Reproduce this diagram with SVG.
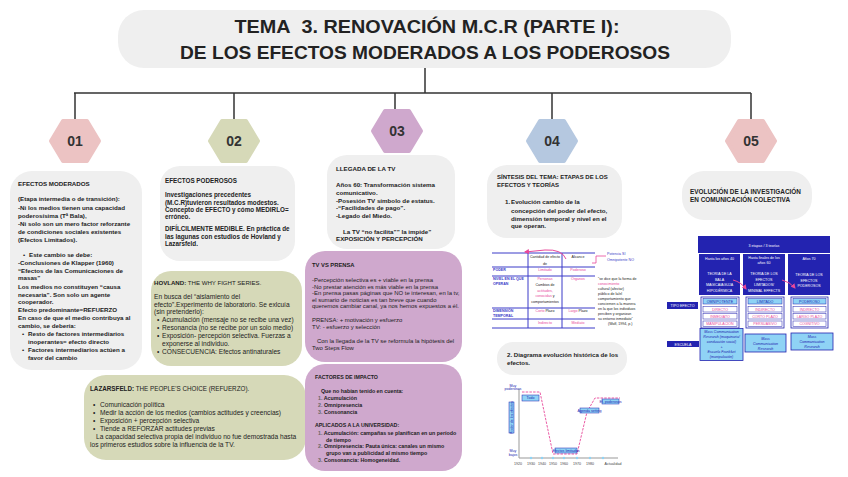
<svg xmlns="http://www.w3.org/2000/svg" width="848" height="477" viewBox="0 0 848 477">
<defs>
<style>
.t{font-family:"Liberation Sans",Arial,sans-serif;fill:#222}
.b{font-weight:bold}
.gray{fill:#efefef}
.ol{fill:#d6d9b8}
.pu{fill:#cfa8cd}
.conn{stroke:#333;stroke-width:1.5;fill:none}
.hexn{font-family:"Liberation Sans",Arial,sans-serif;font-weight:bold;font-size:14px;fill:#333;text-anchor:middle}
.bl{stroke:#3a3ac8;stroke-width:1}
.tb{font-family:"Liberation Sans",Arial,sans-serif;font-size:3.6px;text-anchor:middle}
.pk{fill:#e8489a}
.db{fill:#2323b0}
.wt{fill:#fff}
</style>
<marker id="pa" markerWidth="5" markerHeight="5" refX="4" refY="2.5" orient="auto" markerUnits="userSpaceOnUse"><path d="M0,0 L5,2.5 L0,5z" fill="#e8489a"/></marker>
<path id="hex" d="M-12,-20 L12,-20 L24,0 L12,20 L-12,20 L-24,0Z"/>
</defs>
<rect width="848" height="477" fill="#fff"/>

<g id="title">
<rect x="118" y="10" width="613" height="58" rx="26" class="gray"/>
<text x="427" y="33" class="t b" font-size="18" text-anchor="middle" textLength="385" lengthAdjust="spacingAndGlyphs">TEMA&#160; 3. RENOVACIÓN M.C.R (PARTE I):</text>
<text x="425" y="59" class="t b" font-size="18" text-anchor="middle" textLength="490" lengthAdjust="spacingAndGlyphs">DE LOS EFECTOS MODERADOS A LOS PODEROSOS</text>
</g>

<g id="connectors">
<path class="conn" d="M425,68 V93 M74,93 H751 M75,93 V119 M234,93 V119 M395,93 V109 M552,93 V119 M751,93 V119"/>
</g>

<g id="hex01"><use href="#hex" x="75" y="141" fill="#ecc3c3" stroke="#ecc3c3" stroke-width="4" stroke-linejoin="round"/><text x="75" y="146" class="hexn">01</text></g>
<g id="hex02"><use href="#hex" x="234" y="141" fill="#d6d9b8" stroke="#d6d9b8" stroke-width="4" stroke-linejoin="round"/><text x="234" y="146" class="hexn">02</text></g>
<g id="hex03"><use href="#hex" x="397" y="131" fill="#cfa8cd" stroke="#cfa8cd" stroke-width="4" stroke-linejoin="round"/><text x="397" y="136" class="hexn">03</text></g>
<g id="hex04"><use href="#hex" x="552" y="141" fill="#b5c8e0" stroke="#b5c8e0" stroke-width="4" stroke-linejoin="round"/><text x="552" y="146" class="hexn">04</text></g>
<g id="hex05"><use href="#hex" x="751" y="141" fill="#ecc3c3" stroke="#ecc3c3" stroke-width="4" stroke-linejoin="round"/><text x="751" y="146" class="hexn">05</text></g>

<g id="box1">
<rect x="10" y="171" width="132" height="199" rx="22" class="gray"/>
<g class="t b" font-size="6.2">
<text x="18" y="186">EFECTOS MODERADOS</text>
<text x="18" y="201">(Etapa intermedia o de transición):</text>
<text x="18" y="210">-Ni los medios tienen una capacidad</text>
<text x="18" y="218">poderosísima (Tª Bala),</text>
<text x="18" y="226">-Ni solo son un mero factor reforzante</text>
<text x="18" y="234">de condiciones sociales existentes</text>
<text x="18" y="242">(Efectos Limitados).</text>
<text x="23" y="257">•</text><text x="29" y="257">Este cambio se debe:</text>
<text x="18" y="265">-Conclusiones de Klapper (1960)</text>
<text x="18" y="273">“Efectos de las Comunicaciones de</text>
<text x="18" y="280">masas”</text>
<text x="18" y="289">Los medios no constituyen “causa</text>
<text x="18" y="297">necesaria”. Son solo un agente</text>
<text x="18" y="304">cooperador.</text>
<text x="18" y="312">Efecto predominante=REFUERZO</text>
<text x="18" y="320">En caso de que el medio contribuya al</text>
<text x="18" y="328">cambio, se debería:</text>
<text x="22" y="336">•</text><text x="28" y="336">Resto de factores intermediarios</text>
<text x="28" y="344">inoperantes= efecto directo</text>
<text x="22" y="352">•</text><text x="28" y="352">Factores intermediarios actúen a</text>
<text x="28" y="360">favor del cambio</text>
</g>
</g>

<g id="box2">
<rect x="160" y="166" width="135" height="95" rx="20" class="gray"/>
<g class="t b" font-size="6.3">
<text x="165" y="183">EFECTOS PODEROSOS</text>
<text x="165" y="197">Investigaciones precedentes</text>
<text x="165" y="205">(M.C.R)tuvieron resultados modestos.</text>
<text x="165" y="212">Concepto de EFECTO y cómo MEDIRLO=</text>
<text x="165" y="219">erróneo.</text>
<text x="165" y="231">DIFÍLCILMENTE MEDIBLE. En práctica de</text>
<text x="165" y="239">las lagunas con estudios de Hovland y</text>
<text x="165" y="246">Lazarsfeld.</text>
</g>
</g>

<g id="hovland">
<rect x="151" y="271" width="151" height="95" rx="20" class="ol"/>
<g class="t" font-size="6.6">
<text x="154" y="285" font-size="6.1"><tspan class="b">HOVLAND:</tspan> THE WHY FIGHT SERIES.</text>
<text x="154" y="299">En busca del “aislamiento del</text>
<text x="154" y="307">efecto”.Experimento de laboratorio. Se exlcuía</text>
<text x="154" y="314">(sin pretenderlo):</text>
<text x="157" y="322">•</text><text x="162" y="322">Acumulación (mensaje no se recibe una vez)</text>
<text x="157" y="330">•</text><text x="162" y="330">Resonancia (no se recibe por un solo medio)</text>
<text x="157" y="338">•</text><text x="162" y="338">Exposición- percepción selectiva. Fuerzas a</text>
<text x="162" y="346">exponerse al individuo.</text>
<text x="157" y="354">•</text><text x="162" y="354">CONSECUENCIA: Efectos antinaturales</text>
</g>
</g>

<g id="lazarsfeld">
<rect x="84" y="375" width="222" height="85" rx="22" class="ol"/>
<g class="t" font-size="6.6">
<text x="90" y="391" font-size="6.3"><tspan class="b">LAZARSFELD:</tspan> THE PEOPLE'S CHOICE (REFUERZO).</text>
<text x="93" y="407">•</text><text x="100" y="407">Comunicación política</text>
<text x="93" y="415">•</text><text x="100" y="415">Medir la acción de los medios (cambios actitudes y creencias)</text>
<text x="93" y="423">•</text><text x="100" y="423">Exposición + percepción selectiva</text>
<text x="93" y="431">•</text><text x="100" y="431">Tiende a REFORZAR actitudes previas</text>
<text x="96" y="439">La capacidad selectiva propia del individuo no fue demostrada hasta</text>
<text x="90" y="447">los primeros estudios sobre la influencia de la TV.</text>
</g>
</g>

<g id="box3">
<rect x="327" y="155" width="128" height="94" rx="20" class="gray"/>
<g class="t b" font-size="6.2">
<text x="336" y="171">LLEGADA DE LA TV</text>
<text x="336" y="187">Años 60: Transformación sistema</text>
<text x="336" y="195">comunicativo.</text>
<text x="336" y="203">-Posesión TV símbolo de estatus.</text>
<text x="336" y="210">-“Facilidades de pago”.</text>
<text x="336" y="218">-Legado del Miedo.</text>
<text x="343" y="234">La TV “no facilita”” la impide”</text>
<text x="336" y="241">EXPOSICIÓN Y PERCEPCIÓN</text>
</g>
</g>

<g id="tvprensa">
<rect x="305" y="251" width="157" height="111" rx="20" class="pu"/>
<g class="t" font-size="5.95">
<text x="312" y="267" class="b" font-size="5.8">TV VS PRENSA</text>
<text x="312" y="282">-Percepción selectiva es + viable en la prensa</text>
<text x="312" y="288.5">-No prestar atención es más viable en la prensa</text>
<text x="312" y="295">-En prensa pasas páginas que NO te interesan, en la tv,</text>
<text x="312" y="301.5">el sumario de noticias es tan breve que cuando</text>
<text x="312" y="308">queremos cambiar canal, ya nos hemos expuestos a él.</text>
<text x="312" y="322">PRENSA: + motivación y esfuerzo</text>
<text x="312" y="329">TV: - esfuerzo y selección</text>
<text x="317" y="343">Con la llegada de la TV se reformula la hipótesis del</text>
<text x="312" y="350">Two Steps Flow</text>
</g>
</g>

<g id="factores">
<rect x="305" y="364" width="157" height="107" rx="20" class="pu"/>
<g class="t b" font-size="5.3">
<text x="315" y="379">FACTORES DE IMPACTO</text>
<text x="321" y="393">Que no habían tenido en cuenta:</text>
<text x="318" y="400"><tspan fill="#666">1.</tspan> Acumulación</text>
<text x="318" y="407"><tspan fill="#666">2.</tspan> Omnipresencia</text>
<text x="318" y="414"><tspan fill="#666">3.</tspan> Consonancia</text>
<text x="315" y="427">APLICADOS A LA UNIVERSIDAD:</text>
<text x="318" y="435"><tspan fill="#666">1.</tspan> Acumulación: campañas se planifican en un período</text>
<text x="326" y="442">de tiempo</text>
<text x="318" y="448"><tspan fill="#666">2.</tspan> Omnipresencia: Pauta única: canales un mismo</text>
<text x="326" y="455">grupo van a publicidad al mismo tiempo</text>
<text x="318" y="462"><tspan fill="#666">3.</tspan> Consonancia: Homogeneidad.</text>
</g>
</g>

<g id="box4">
<rect x="487" y="165" width="135" height="73" rx="20" class="gray"/>
<g class="t b" font-size="6.2">
<text x="497" y="179" font-size="6">SÍNTESIS DEL TEMA: ETAPAS DE LOS</text>
<text x="497" y="187" font-size="6">EFECTOS Y TEORÍAS</text>
<text x="505" y="204">1.</text><text x="511" y="204">Evolución cambio de la</text>
<text x="511" y="213">concepción del poder del efecto,</text>
<text x="511" y="221">dimensión temporal y nivel en el</text>
<text x="511" y="228">que operan.</text>
</g>
</g>

<g id="tabla-efectos">
<path class="bl" fill="none" d="M492,253 H595 M492,267 H595 M492,276 H595 M492,308 H595 M492,319 H595 M492,328 H595 M528,253 V328 M562,253 V328"/>
<path d="M566,259 Q562,249 545,250 L525,252" stroke="#e8489a" stroke-width="1" fill="none" marker-end="url(#pa)"/>
<path d="M592,263 H596 V256 H606" stroke="#e8489a" stroke-width="0.8" fill="none"/>
<g class="tb">
<text x="545" y="258" fill="#222">Cantidad de efecto</text>
<text x="545" y="265" fill="#222">de</text>
<text x="578" y="258" fill="#222">Alcance</text>
<text x="607" y="255" fill="#3a3ac8" text-anchor="start">Potencia SÍ</text>
<text x="607" y="261" fill="#3a3ac8" text-anchor="start">Omnipotente NO</text>
<text x="493" y="271" fill="#3a3ac8" text-anchor="start" font-weight="bold">PODER</text>
<text x="545" y="271" class="pk">Limitado</text>
<text x="578" y="271" class="pk">Poderoso</text>
<text x="493" y="280" fill="#3a3ac8" text-anchor="start" font-weight="bold">NIVEL EN EL QUE</text>
<text x="493" y="285" fill="#3a3ac8" text-anchor="start" font-weight="bold">OPERAN</text>
<text x="545" y="280" class="pk">Personas</text>
<text x="545" y="286" fill="#222">Cambios de</text>
<text x="545" y="292" class="pk">actitudes,</text>
<text x="545" y="297" fill="#222"><tspan class="pk">conocidas</tspan> y</text>
<text x="545" y="303" fill="#222">comportamientos</text>
<text x="578" y="280" class="pk">Órganos</text>
<text x="493" y="312" fill="#3a3ac8" text-anchor="start" font-weight="bold">DIMENSIÓN</text>
<text x="493" y="317" fill="#3a3ac8" text-anchor="start" font-weight="bold">TEMPORAL</text>
<text x="545" y="312" fill="#222"><tspan class="pk">Corto</tspan> Plazo</text>
<text x="578" y="312" fill="#222"><tspan class="pk">Largo</tspan> Plazo</text>
<text x="545" y="324" class="pk">Indirecto</text>
<text x="578" y="324" class="pk">Mediato</text>
</g>
<g class="tb" text-anchor="start" fill="#222" font-size="3.3">
<text x="598" y="280" text-anchor="start">“se dice que la forma de</text>
<text x="598" y="285" text-anchor="start" class="pk">conocimiento</text>
<text x="598" y="290" text-anchor="start">cultural (afectar)</text>
<text x="598" y="295" text-anchor="start">público de la/el</text>
<text x="598" y="300" text-anchor="start">comportamiento que</text>
<text x="598" y="305" text-anchor="start">conciernen a la manera</text>
<text x="598" y="310" text-anchor="start">en la que los individuos</text>
<text x="598" y="315" text-anchor="start">perciben y organizan</text>
<text x="598" y="320" text-anchor="start">su entorno inmediato”</text>
<text x="608" y="325" text-anchor="start">(Wolf, 1994, p.)</text>
</g>
</g>

<g id="box4b">
<rect x="497" y="342" width="130" height="33" rx="16" class="gray"/>
<g class="t b" font-size="6.1">
<text x="507" y="357">2. Diagrama evolución histórica de los</text>
<text x="507" y="365">efectos.</text>
</g>
</g>

<g id="grafico">
<path d="M519,389 V458 H618" stroke="#999" stroke-width="1" fill="none"/>
<path d="M522,392 H540 L553,454 H577 L587,412 L595,398 H620" stroke="#e8489a" stroke-width="0.9" stroke-dasharray="2.5,1.2" fill="none"/>
<g fill="#8fd3f5" stroke="#2323b0" stroke-width="0.5">
<rect x="509" y="402" width="5" height="31"/>
<rect x="522" y="395" width="17" height="6"/>
<rect x="555" y="448" width="22" height="5"/>
<rect x="580" y="408" width="19" height="5"/>
<rect x="602" y="399" width="17" height="5"/>
</g>
<g fill="#8fd3f5">
<circle cx="531" cy="458" r="1.2"/><circle cx="542" cy="458" r="1.2"/><circle cx="553" cy="458" r="1.2"/><circle cx="564" cy="458" r="1.2"/><circle cx="577" cy="458" r="1.2"/><circle cx="590" cy="458" r="1.2"/><circle cx="603" cy="458" r="1.2"/>
</g>
<g class="tb" font-size="2.6" fill="#2323b0">
<text x="513" y="387">Muy</text>
<text x="513" y="390">poderosos</text>
<text x="513" y="452">Muy</text>
<text x="513" y="456">bajos</text>
<text x="530.5" y="399">Todo</text>
<text x="566" y="451.5">Efectos limitados</text>
<text x="589.5" y="411.5">Agenda setting</text>
<text x="610.5" y="402.5">Ef. poderosos</text>
<text transform="translate(512.5,417.5) rotate(-90)">Poder de los efectos</text>
</g>
<g class="tb" font-size="2.4" fill="#444">
<text x="518" y="465">1920</text><text x="531" y="465">1930</text><text x="542" y="465">1940</text><text x="553" y="465">1950</text><text x="564" y="465">1960</text><text x="577" y="465">1970</text><text x="590" y="465">1980</text><text x="613" y="465">Actualidad</text>
</g>
</g>

<g id="box5">
<rect x="682" y="171" width="130" height="49" rx="22" class="gray"/>
<g class="t b" font-size="6.4">
<text x="690" y="194">EVOLUCIÓN DE LA INVESTIGACIÓN</text>
<text x="690" y="202">EN COMUNICACIÓN COLECTIVA</text>
</g>
</g>

<g id="tabla-teorias">
<rect x="698" y="236" width="132" height="17" class="db"/>
<text x="764" y="247" class="tb wt" font-size="7.5">3 etapas / 3 teorías</text>
<rect x="699" y="254" width="41" height="41" class="db"/>
<rect x="743" y="254" width="42" height="41" class="db"/>
<rect x="788" y="254" width="42" height="41" class="db"/>
<g class="tb wt" font-size="4">
<text x="719.5" y="260">Hasta los años 40</text>
<text x="719.5" y="275">TEORÍA DE LA</text>
<text x="719.5" y="280.5">BALA</text>
<text x="719.5" y="286">MÁGICA/AGUJA</text>
<text x="719.5" y="292">HIPODÉRMICA</text>
<text x="764" y="259">Hasta finales de los</text>
<text x="764" y="264">años 60</text>
<text x="764" y="275">TEORÍA DE LOS</text>
<text x="764" y="280.5">EFECTOS</text>
<text x="764" y="286">LIMITADOS/</text>
<text x="764" y="292">MINIMAL EFFECTS</text>
<text x="809" y="260">Años 70</text>
<text x="809" y="276">TEORÍA DE LOS</text>
<text x="809" y="281.5">EFECTOS</text>
<text x="809" y="287">PODEROSOS</text>
</g>
<path d="M733,280 Q741,282 746,289" stroke="#e8489a" stroke-width="1" fill="none" marker-end="url(#pa)"/>
<path d="M782,280 Q790,282 795,288" stroke="#e8489a" stroke-width="1" fill="none" marker-end="url(#pa)"/>

<rect x="667" y="302" width="31" height="7" class="db"/>
<text x="682.5" y="307" class="tb wt" font-size="3.6">TIPO EFECTO</text>
<g fill="#fff" stroke="#2323b0" stroke-width="0.8">
<rect x="701" y="297" width="38" height="31"/>
<rect x="746" y="297" width="38" height="31"/>
<rect x="791" y="297" width="37" height="31"/>
</g>
<g stroke="#2323b0" stroke-width="0.5">
<rect x="703" y="298.5" width="34" height="5.5" fill="#8fd3f5"/>
<rect x="703" y="306.5" width="34" height="5.5" fill="#fff"/>
<rect x="703" y="313.5" width="34" height="5.5" fill="#fff"/>
<rect x="703" y="321" width="34" height="5.5" fill="#fff"/>
<rect x="748" y="298.5" width="34" height="5.5" fill="#8fd3f5"/>
<rect x="748" y="306.5" width="34" height="5.5" fill="#fff"/>
<rect x="748" y="313.5" width="34" height="5.5" fill="#fff"/>
<rect x="748" y="321" width="34" height="5.5" fill="#fff"/>
<rect x="793" y="298.5" width="33" height="5.5" fill="#8fd3f5"/>
<rect x="793" y="306.5" width="33" height="5.5" fill="#fff"/>
<rect x="793" y="313.5" width="33" height="5.5" fill="#fff"/>
<rect x="793" y="321" width="33" height="5.5" fill="#fff"/>
</g>
<g class="tb" font-size="3.6">
<text x="720" y="302.6" fill="#2323b0">OMNIPOTENTE</text>
<text x="720" y="310.6" class="pk">DIRECTO</text>
<text x="720" y="317.6" class="pk">INMEDIATO</text>
<text x="720" y="325.1" class="pk">MANIPULACIÓN</text>
<text x="765" y="302.6" fill="#2323b0">LIMITADO</text>
<text x="765" y="310.6" class="pk">INDIRECTO</text>
<text x="765" y="317.6" class="pk">CORTO PLAZO</text>
<text x="765" y="325.1" class="pk">PERSUASIVO</text>
<text x="809.5" y="302.6" fill="#2323b0">PODEROSO</text>
<text x="809.5" y="310.6" class="pk">INDIRECTO</text>
<text x="809.5" y="317.6" class="pk">LARGO PLAZO</text>
<text x="809.5" y="325.1" class="pk">COGNITIVO</text>
</g>

<rect x="667" y="341" width="32" height="6" class="db"/>
<text x="683" y="345.5" class="tb wt" font-size="3.6">ESCUELA</text>
<g fill="#8fd3f5" stroke="#2323b0" stroke-width="0.8">
<rect x="700" y="328.5" width="43" height="32"/>
<rect x="745" y="334" width="41" height="18"/>
<rect x="791" y="333" width="42" height="17"/>
</g>
<g class="tb" font-size="3.3" fill="#2323b0" font-style="italic">
<text x="721.5" y="333">Mass Communication</text>
<text x="721.5" y="338">Research (maquinaria/</text>
<text x="721.5" y="343">conducción social)</text>
<text x="721.5" y="348">+</text>
<text x="721.5" y="353">Escuela Frankfurt</text>
<text x="721.5" y="358">(manipulación)</text>
<text x="765.5" y="339.5">Mass</text>
<text x="765.5" y="344.5">Communication</text>
<text x="765.5" y="349.5">Research</text>
<text x="812" y="338">Mass</text>
<text x="812" y="343">Communication</text>
<text x="812" y="348">Research</text>
</g>
</g>
</svg>
